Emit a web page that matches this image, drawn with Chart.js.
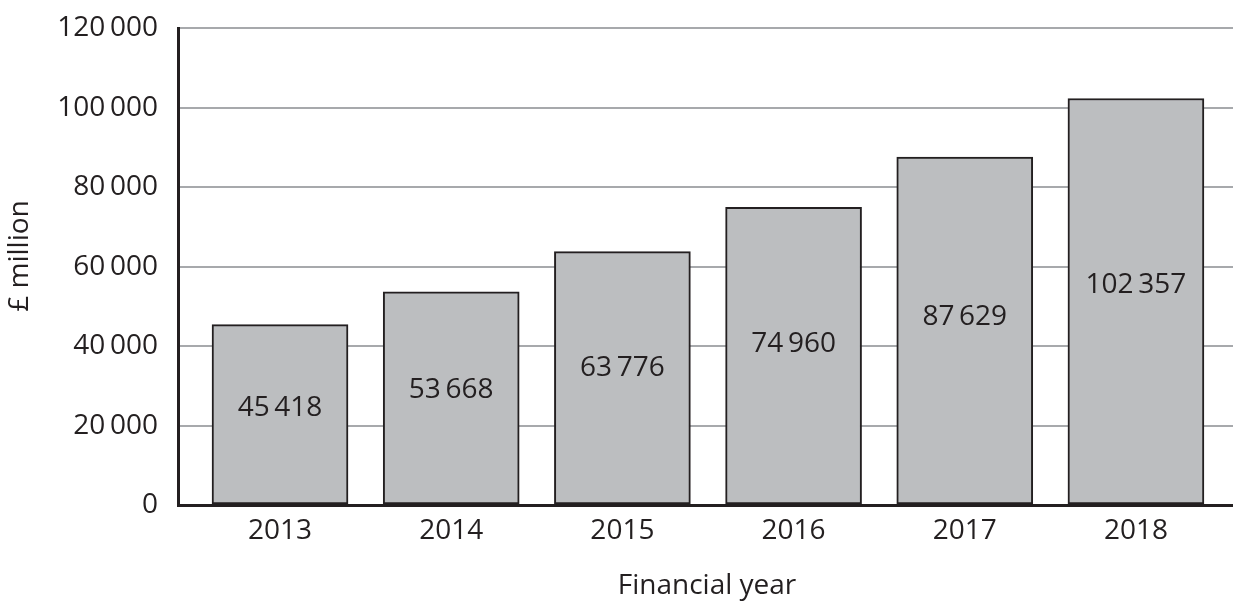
<!DOCTYPE html>
<html>
<head>
<meta charset="utf-8">
<script src="https://cdn.jsdelivr.net/npm/chart.js@4/dist/chart.umd.min.js"></script>
<style>
  html, body { margin: 0; padding: 0; background: #ffffff; }
  #wrap { width: 1233px; height: 603px; }
</style>
</head>
<body>
<div id="wrap"><canvas id="spendChart" width="1233" height="603"></canvas></div>
<script>
// ---------------------------------------------
// DATA
// ---------------------------------------------
const years = ["2013", "2014", "2015", "2016", "2017", "2018"];
const spend = [45418, 53668, 63776, 74960, 87629, 102357];
const yTicks = [0, 20000, 40000, 60000, 80000, 100000, 120000];

const FONT = "'Open Sans', 'DejaVu Sans', sans-serif";
const INK = '#231f20';

// thin space as thousands separator, e.g. "102 357"
function fmt(n) {
    return String(n).replace(/\B(?=(\d{3})+(?!\d))/g, '\u2009');
}

// ---------------------------------------------
// PLUGINS: value labels and axis titles
// ---------------------------------------------
const valueLabels = {
    id: 'valueLabels',
    afterDatasetsDraw(chart) {
        const ctx = chart.ctx;
        const meta = chart.getDatasetMeta(0);
        const y = chart.scales.y;
        ctx.save();
        ctx.font = '28px ' + FONT;
        ctx.fillStyle = INK;
        ctx.textAlign = 'center';
        ctx.textBaseline = 'middle';
        meta.data.forEach((bar, i) => {
            ctx.fillText(fmt(spend[i]), bar.x, y.getPixelForValue(spend[i] * 0.54));
        });
        ctx.restore();
    }
};

const axisTitles = {
    id: 'axisTitles',
    afterDraw(chart) {
        const ctx = chart.ctx;
        ctx.save();
        ctx.font = '28px ' + FONT;
        ctx.fillStyle = INK;
        ctx.textAlign = 'center';
        ctx.textBaseline = 'middle';
        ctx.fillText('Financial year', 707, 586);
        ctx.translate(20, 256);
        ctx.rotate(-Math.PI / 2);
        ctx.fillText('£ million', 0, 0);
        ctx.restore();
    }
};

// ---------------------------------------------
// CHART
// ---------------------------------------------
new Chart(document.getElementById('spendChart'), {
    type: 'bar',
    data: {
        datasets: [{
            data: spend.map((v, i) => ({ x: i, y: v })),
            backgroundColor: '#bcbec0',
            borderColor: INK,
            borderWidth: 2,
            borderSkipped: false,
            barThickness: 136
        }]
    },
    options: {
        responsive: false,
        animation: false,
        layout: { padding: { top: 26, right: 0, left: 0, bottom: 0 } },
        plugins: {
            legend: { display: false },
            tooltip: { enabled: false }
        },
        scales: {
            x: {
                type: 'linear',
                offset: false,
                min: -0.596,
                max: 5.567,
                afterBuildTicks: s => { s.ticks = years.map((_, i) => ({ value: i })); },
                afterFit: s => { s.height = 98; },
                grid: { display: false, drawTicks: false, offset: false },
                border: { display: true, color: INK, width: 3 },
                ticks: {
                    color: INK,
                    font: { family: FONT, size: 28 },
                    padding: 9,
                    maxRotation: 0,
                    callback: v => years[v]
                }
            },
            y: {
                min: 0,
                max: 120000,
                afterBuildTicks: s => { s.ticks = yTicks.map(v => ({ value: v })); },
                afterFit: s => { s.width = 178; },
                grid: { color: '#a7a9ac', lineWidth: 2, drawTicks: false },
                border: { display: true, color: INK, width: 3 },
                ticks: {
                    color: INK,
                    font: { family: FONT, size: 28, lineHeight: 0.6 },
                    padding: 20,
                    callback: v => fmt(v)
                }
            }
        }
    },
    plugins: [valueLabels, axisTitles]
});
</script>
</body>
</html>
